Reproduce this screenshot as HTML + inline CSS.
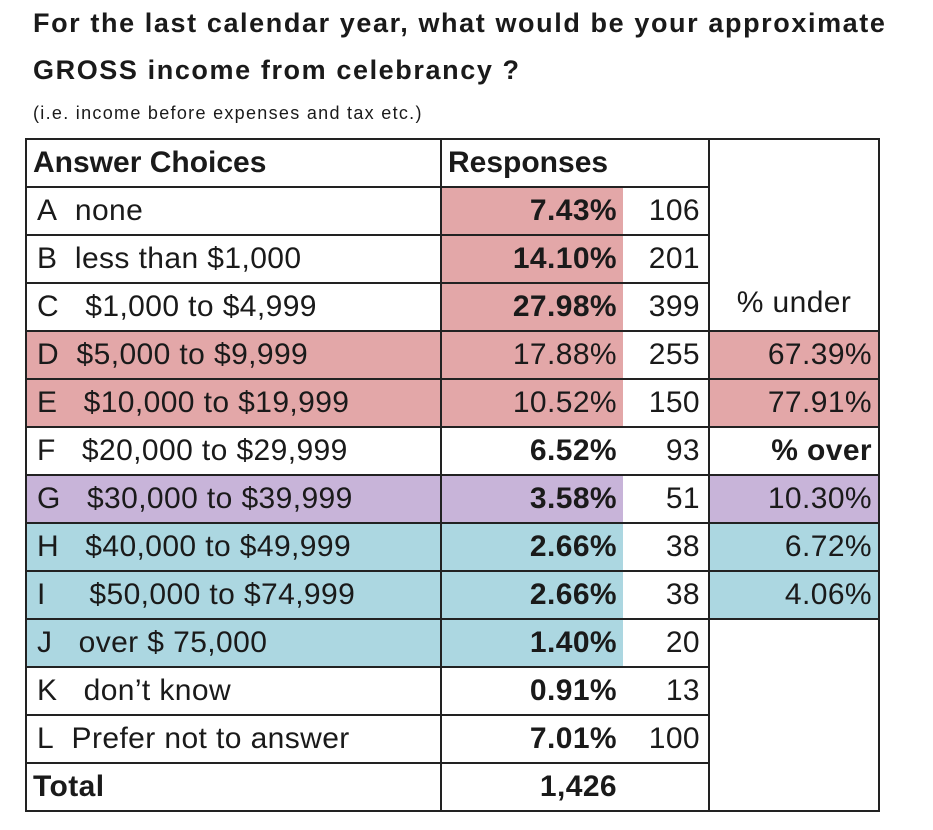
<!DOCTYPE html>
<html><head><meta charset="utf-8">
<style>
body{margin:0;width:933px;height:830px;background:#fff;font-family:"Liberation Sans",sans-serif;color:#1a1a1a;position:relative;overflow:hidden}
.t1{position:absolute;left:33px;font-weight:bold;font-size:27px;letter-spacing:1.6px}
.sub{position:absolute;left:33px;top:103px;font-size:18px;letter-spacing:1.3px}
table{position:absolute;left:25px;top:138px;border-collapse:collapse;table-layout:fixed}
td{border:2px solid #222;height:46px;padding:0;font-size:30px;white-space:nowrap;line-height:46px;letter-spacing:0.4px}
tr.h td{height:44px}
td.c1{padding-left:10px}
td.p{text-align:right;padding-right:6px;border-right:none;font-weight:bold}
td.n{text-align:right;padding-right:8px;border-left:none}
td.x{text-align:right;padding-right:6px}
.r{background:#e3a7a8}.v{background:#c8b4d9}.b{background:#acd7e1}
.nb{font-weight:normal!important}
</style></head><body>
<div class="t1" style="top:8px">For the last calendar year, what would be your approximate</div>
<div class="t1" style="top:55px">GROSS income from celebrancy ?</div>
<div class="sub">(i.e. income before expenses and tax etc.)</div>
<table>
<colgroup><col style="width:415px"><col style="width:182px"><col style="width:86px"><col style="width:170px"></colgroup>
<tr class="h"><td class="c1" style="font-weight:bold;padding-left:6px;letter-spacing:0">Answer Choices</td><td colspan="2" style="font-weight:bold;padding-left:6px;letter-spacing:0">Responses</td><td rowspan="4" class="x" style="vertical-align:bottom;text-align:center;padding:0 0 4px 0">% under</td></tr>
<tr><td class="c1">A&nbsp;&nbsp;none</td><td class="p r">7.43%</td><td class="n">106</td></tr>
<tr><td class="c1">B&nbsp;&nbsp;less than $1,000</td><td class="p r">14.10%</td><td class="n">201</td></tr>
<tr><td class="c1">C&nbsp;&nbsp;&nbsp;$1,000 to $4,999</td><td class="p r">27.98%</td><td class="n">399</td></tr>
<tr><td class="c1 r">D&nbsp;&nbsp;$5,000 to $9,999</td><td class="p r nb">17.88%</td><td class="n">255</td><td class="x r">67.39%</td></tr>
<tr><td class="c1 r">E&nbsp;&nbsp;&nbsp;$10,000 to $19,999</td><td class="p r nb">10.52%</td><td class="n">150</td><td class="x r">77.91%</td></tr>
<tr><td class="c1">F&nbsp;&nbsp;&nbsp;$20,000 to $29,999</td><td class="p">6.52%</td><td class="n">93</td><td class="x" style="font-weight:bold">% over</td></tr>
<tr><td class="c1 v">G&nbsp;&nbsp;&nbsp;$30,000 to $39,999</td><td class="p v">3.58%</td><td class="n">51</td><td class="x v">10.30%</td></tr>
<tr><td class="c1 b">H&nbsp;&nbsp;&nbsp;$40,000 to $49,999</td><td class="p b">2.66%</td><td class="n">38</td><td class="x b">6.72%</td></tr>
<tr><td class="c1 b">I&nbsp;&nbsp;&nbsp;&nbsp;&nbsp;$50,000 to $74,999</td><td class="p b">2.66%</td><td class="n">38</td><td class="x b">4.06%</td></tr>
<tr><td class="c1 b">J&nbsp;&nbsp;&nbsp;over $ 75,000</td><td class="p b">1.40%</td><td class="n">20</td><td rowspan="4"></td></tr>
<tr><td class="c1">K&nbsp;&nbsp;&nbsp;don’t know</td><td class="p">0.91%</td><td class="n">13</td></tr>
<tr><td class="c1">L&nbsp;&nbsp;Prefer not to answer</td><td class="p">7.01%</td><td class="n">100</td></tr>
<tr><td class="c1" style="font-weight:bold;padding-left:6px">Total</td><td class="p">1,426</td><td class="n"></td></tr>
</table>
</body></html>
